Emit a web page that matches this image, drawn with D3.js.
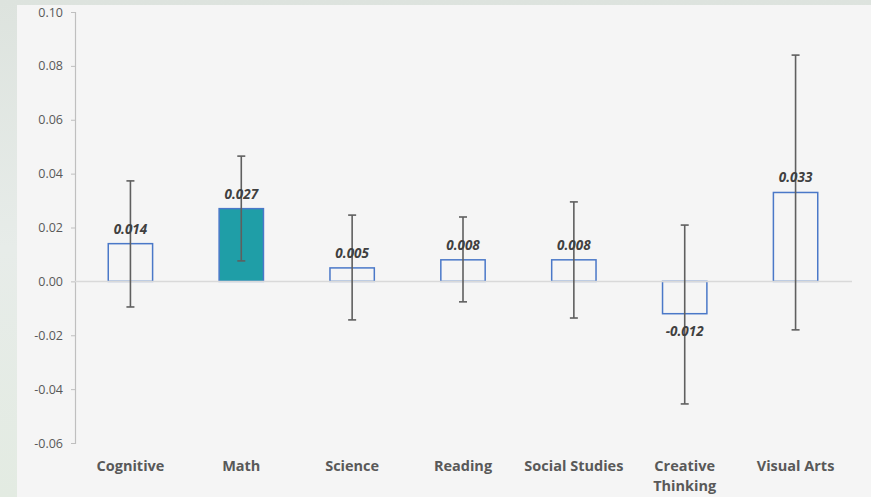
<!DOCTYPE html>
<html>
<head>
<meta charset="utf-8">
<script src="https://cdn.jsdelivr.net/npm/d3@7"></script>
<style>
  html, body { margin: 0; padding: 0; background: #e4e9e4; }
  svg { display: block; }
</style>
</head>
<body>
<svg id="chart" width="871" height="497"></svg>
<script>
// Effect sizes by subject area, with confidence intervals
const categories = ["Cognitive", "Math", "Science", "Reading", "Social Studies", "Creative Thinking", "Visual Arts"];
const effects = [0.014, 0.027, 0.005, 0.008, 0.008, -0.012, 0.033];
const ciLower = [-0.0095, 0.0076, -0.0143, -0.0076, -0.0136, -0.0455, -0.0180];
const ciUpper = [0.0373, 0.0465, 0.0246, 0.0239, 0.0295, 0.0209, 0.0840];
const highlighted = ["Math"];
const yTicks = [0.10, 0.08, 0.06, 0.04, 0.02, 0.00, -0.02, -0.04, -0.06];

const W = 871, H = 497;
const svg = d3.select("#chart");
const font = "'Open Sans', Lato, sans-serif";
// plain hyphen for negatives
const fmt = p => v => d3.format(p)(v).replace("\u2212", "-");

// background: outer strip and chart panel
const bg = svg.append("defs").append("linearGradient")
  .attr("id", "edge").attr("x1", 0).attr("y1", 0).attr("x2", 0).attr("y2", 1);
bg.append("stop").attr("offset", "0%").attr("stop-color", "#dde3de");
bg.append("stop").attr("offset", "50%").attr("stop-color", "#e7ece9");
bg.append("stop").attr("offset", "100%").attr("stop-color", "#e3ebe2");
svg.append("rect").attr("width", W).attr("height", H).attr("fill", "url(#edge)");
svg.append("rect").attr("x", 17).attr("y", 5).attr("width", W - 17).attr("height", H - 5).attr("fill", "#f5f5f5");

const margin = { left: 75 };
const x = d3.scaleBand().domain(categories).range([margin.left, 851]).paddingInner(0.6).paddingOuter(0.3);
const y = d3.scaleLinear().domain([-0.06, 0.10]).range([443, 12]);

// y axis
const yAxis = svg.append("g")
  .attr("transform", `translate(${margin.left},0)`)
  .call(d3.axisLeft(y).tickValues(yTicks).tickSize(4).tickPadding(8).tickFormat(fmt(".2f")));
yAxis.select(".domain").attr("stroke", "#bfbfbf").attr("stroke-width", 1.2);
yAxis.selectAll(".tick line").attr("stroke", "#bfbfbf");
yAxis.selectAll(".tick text")
  .attr("fill", "#595959").attr("font-family", font).attr("font-size", 12.5);

const data = categories.map((c, i) => ({ c, v: effects[i], lo: ciLower[i], hi: ciUpper[i] }));

// bars
svg.append("g").selectAll("rect").data(data).join("rect")
  .attr("x", d => x(d.c))
  .attr("width", x.bandwidth())
  .attr("y", d => y(Math.max(0, d.v)))
  .attr("height", d => Math.abs(y(d.v) - y(0)))
  .attr("fill", d => highlighted.includes(d.c) ? "#1f9ea7" : "none")
  .attr("stroke", "#4a78c8")
  .attr("stroke-width", 1.5);

// zero baseline
svg.append("line")
  .attr("x1", margin.left).attr("x2", 852)
  .attr("y1", y(0)).attr("y2", y(0))
  .attr("stroke", "#d9d9d9").attr("stroke-width", 1.5);

// error bars
const eb = svg.append("g").attr("stroke", "#5f5f5f").attr("stroke-width", 1.6);
data.forEach(d => {
  const cx = x(d.c) + x.bandwidth() / 2;
  eb.append("line").attr("x1", cx).attr("x2", cx).attr("y1", y(d.hi)).attr("y2", y(d.lo));
  [d.hi, d.lo].forEach(v => {
    eb.append("line").attr("x1", cx - 4).attr("x2", cx + 4).attr("y1", y(v)).attr("y2", y(v));
  });
});

// value labels
svg.append("g").selectAll("text").data(data).join("text")
  .attr("x", d => x(d.c) + x.bandwidth() / 2)
  .attr("y", d => d.v >= 0 ? y(d.v) - 10 : y(d.v) + 22)
  .attr("text-anchor", "middle")
  .attr("font-family", font).attr("font-size", 13.5)
  .attr("font-weight", "bold").attr("font-style", "italic")
  .attr("fill", "#404040")
  .text(d => fmt(".3f")(d.v));

// category labels
const catG = svg.append("g");
categories.forEach(c => {
  const cx = x(c) + x.bandwidth() / 2;
  const words = c === "Creative Thinking" ? ["Creative", "Thinking"] : [c];
  const t = catG.append("text")
    .attr("x", cx).attr("y", 471)
    .attr("text-anchor", "middle")
    .attr("font-family", font).attr("font-size", 14.5).attr("font-weight", "bold")
    .attr("fill", "#595959");
  words.forEach((w, i) => {
    t.append("tspan").attr("x", cx).attr("dy", i === 0 ? 0 : 20).text(w);
  });
});
</script>
</body>
</html>
